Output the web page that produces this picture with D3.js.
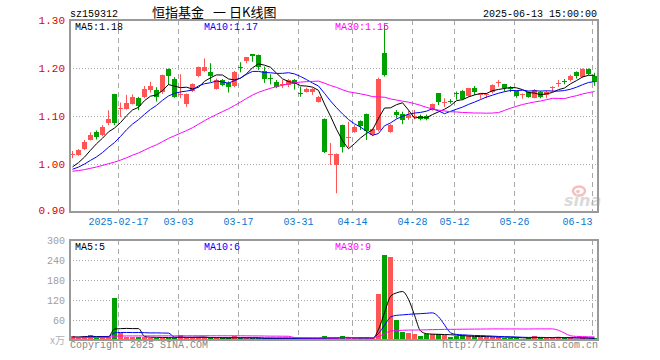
<!DOCTYPE html>
<html><head><meta charset="utf-8">
<script src="https://cdn.jsdelivr.net/npm/d3@7/dist/d3.min.js"></script>
<style>body{margin:0;background:#fff}svg{display:block}</style>
</head><body>
<svg id="c" width="660" height="360"></svg>
<script>
// ---------------- data ----------------
const dates = [
"2025-02-05","2025-02-06","2025-02-07","2025-02-10","2025-02-11","2025-02-12","2025-02-13","2025-02-14","2025-02-17","2025-02-18",
"2025-02-19","2025-02-20","2025-02-21","2025-02-24","2025-02-25","2025-02-26","2025-02-27","2025-02-28","2025-03-03","2025-03-04",
"2025-03-05","2025-03-06","2025-03-07","2025-03-10","2025-03-11","2025-03-12","2025-03-13","2025-03-14","2025-03-17","2025-03-18",
"2025-03-19","2025-03-20","2025-03-21","2025-03-24","2025-03-25","2025-03-26","2025-03-27","2025-03-28","2025-03-31","2025-04-01",
"2025-04-02","2025-04-03","2025-04-07","2025-04-08","2025-04-09","2025-04-10","2025-04-11","2025-04-14","2025-04-15","2025-04-16",
"2025-04-17","2025-04-18","2025-04-21","2025-04-22","2025-04-23","2025-04-24","2025-04-25","2025-04-28","2025-04-29","2025-04-30",
"2025-05-06","2025-05-07","2025-05-08","2025-05-09","2025-05-12","2025-05-13","2025-05-14","2025-05-15","2025-05-16","2025-05-19",
"2025-05-20","2025-05-21","2025-05-22","2025-05-23","2025-05-26","2025-05-27","2025-05-28","2025-05-29","2025-05-30","2025-06-03",
"2025-06-04","2025-06-05","2025-06-06","2025-06-09","2025-06-10","2025-06-11","2025-06-12","2025-06-13"];

const open = [1.019,1.019,1.031,1.051,1.066,1.060,1.085,1.146,1.1155,1.114,
1.126,1.137,1.140,1.154,1.154,1.149,1.198,1.178,1.144,1.124,
1.152,1.183,1.194,1.191,1.157,1.175,1.168,1.163,1.2015,1.215,
1.229,1.227,1.194,1.1795,1.171,1.166,1.164,1.175,1.148,1.151,
1.151,1.130,1.094,1.018,0.998,1.081,1.056,1.067,1.090,1.104,
1.060,1.071,1.232,1.067,1.109,1.104,1.0965,1.099,1.099,1.100,
1.1125,1.147,1.1275,1.1305,1.1475,1.152,1.142,1.158,1.145,1.145,
1.149,1.1695,1.166,1.158,1.152,1.145,1.149,1.138,1.149,1.144,
1.1595,1.168,1.172,1.174,1.192,1.181,1.198,1.183];
const high = [1.027,1.031,1.050,1.066,1.070,1.081,1.112,1.146,1.128,1.144,
1.145,1.140,1.1625,1.1715,1.160,1.186,1.199,1.181,1.187,1.147,
1.168,1.203,1.220,1.210,1.178,1.177,1.172,1.194,1.212,1.223,
1.229,1.228,1.203,1.187,1.175,1.175,1.177,1.177,1.161,1.159,
1.158,1.142,1.095,1.044,1.022,1.082,1.088,1.081,1.091,1.105,
1.074,1.180,1.290,1.083,1.1125,1.109,1.111,1.1125,1.103,1.103,
1.126,1.148,1.137,1.135,1.151,1.154,1.159,1.1625,1.147,1.148,
1.166,1.175,1.167,1.162,1.153,1.147,1.151,1.156,1.152,1.153,
1.162,1.175,1.177,1.186,1.193,1.199,1.199,1.190];
const low = [1.012,1.017,1.029,1.049,1.051,1.058,1.081,1.081,1.098,1.113,
1.124,1.112,1.137,1.149,1.130,1.146,1.165,1.138,1.137,1.119,
1.150,1.181,1.192,1.171,1.155,1.162,1.149,1.160,1.191,1.210,
1.213,1.196,1.169,1.166,1.158,1.158,1.160,1.155,1.140,1.149,
1.144,1.128,1.023,0.998,0.939,1.024,1.035,1.065,1.071,1.050,
1.058,1.068,1.182,1.065,1.095,1.083,1.092,1.093,1.091,1.091,
1.111,1.123,1.119,1.1257,1.134,1.133,1.140,1.144,1.136,1.137,
1.147,1.161,1.151,1.150,1.138,1.136,1.138,1.137,1.137,1.137,
1.150,1.161,1.166,1.172,1.178,1.180,1.185,1.163];
const close = [1.020,1.029,1.045,1.060,1.057,1.078,1.094,1.086,1.116,1.128,
1.139,1.121,1.156,1.1625,1.140,1.185,1.184,1.140,1.146,1.145,
1.166,1.202,1.202,1.183,1.175,1.165,1.161,1.192,1.2005,1.222,
1.226,1.203,1.178,1.1785,1.161,1.1668,1.174,1.167,1.147,1.157,
1.156,1.140,1.025,1.020,1.021,1.036,1.057,1.078,1.079,1.069,
1.072,1.178,1.185,1.081,1.102,1.092,1.102,1.101,1.093,1.094,
1.125,1.130,1.1282,1.1298,1.1468,1.1355,1.158,1.149,1.146,1.146,
1.165,1.1705,1.159,1.157,1.142,1.146,1.140,1.154,1.140,1.151,
1.1605,1.169,1.171,1.184,1.184,1.198,1.187,1.171];
// volume, 万
const volume = [12,7,13,15,5,12,8,125,20,9,
9,8,9,7,7,7,6,6,16,5,
8,8,8,5,6,5,5,12,5,6,
5,5,5,5,5,6,5,5,5,5,
5,5,11,5,6,12,5,5,5,6,
5,138,255,249,60,25,21,18,13,18,
18,18,15,10,12,12,11,8,10,10,
10,8,7,7,7,4,6,12,7,7,
5,9,7,6,4,5,4,6];
// estimated sessions before the first visible day (only feed the moving averages)
const prevClose = [0.990,0.985,0.978,0.975,0.980,0.986,0.990,0.988,0.983,0.979,
0.977,0.980,0.984,0.987,0.985,0.982,0.979,0.981,0.985,0.986,
0.983,0.981,0.984,0.986,0.986,0.985,0.987,0.989,0.989];
const prevVolume = [7,6,8,5,7,6,9,7,6,5,8,7,6,7,5,6,8,7,6,5,7,6,8,7,6,7,9,8,9];

const priceTicks = [0.90,1.00,1.10,1.20,1.30];
const volumeTicks = [0,60,120,180,240,300];
const tickDates = ["2025-02-17","2025-03-03","2025-03-17","2025-03-31","2025-04-14","2025-04-28","2025-05-12","2025-05-26","2025-06-13"];
const maPeriods = [5,10,30];
const maColors = ["#000000","#0000ff","#ff00ff"];

// ---------------- drawing ----------------
const UP = "#ff5555", DOWN = "#00a000";
const GRID = "#a8a8a8", FRAME = "#999999";
const MONO = "'Liberation Mono','DejaVu Sans Mono',monospace";
const svg = d3.select("#c");

const L = 70, R = 598, PT = 20, PB = 212, VT = 240, VB = 340;
const x = d3.scaleBand().domain(dates).range([L - 0.5, R - 0.5]).paddingInner(1/6).paddingOuter(1/12);
const cx = d => x(d) + x.bandwidth() / 2;
const y = d3.scaleLinear().domain([0.90, 1.30]).range([PB, PT]);
const yv = d3.scaleLinear().domain([0, 300]).range([VB, VT]);

function movingAvg(series, prev, n) {
  const all = prev.concat(series), off = prev.length;
  return series.map((_, i) => d3.mean(all.slice(off + i - n + 1, off + i + 1)));
}
const priceMA = maPeriods.map(n => movingAvg(close, prevClose, n));
const volMA = maPeriods.map(n => movingAvg(volume, prevVolume, n));

// header
svg.append("text").attr("x", 70).attr("y", 16.5).attr("font-family", MONO).attr("font-size", 10).attr("fill", "#000").text("sz159312");
const cjk = "'Noto Sans CJK SC','Noto Sans',sans-serif";
svg.append("text").attr("x", 152).attr("y", 17).attr("font-family", cjk).attr("font-size", 13).attr("fill", "#000").text("恒指基金");
svg.append("text").attr("x", 213).attr("y", 17).attr("font-family", cjk).attr("font-size", 13).attr("fill", "#000").text("一");
svg.append("text").attr("x", 229).attr("y", 17).attr("font-family", cjk).attr("font-size", 13).attr("fill", "#000").text("日K线图");
svg.append("text").attr("x", 597).attr("y", 16.5).attr("text-anchor", "end").attr("font-family", MONO).attr("font-size", 10).attr("fill", "#000").text(dates[dates.length - 1] + " 15:00:00");

// grids
function panelGrid(top, bottom, ys) {
  const g = svg.append("g");
  ys.forEach(v => g.append("line").attr("x1", L).attr("x2", R).attr("y1", Math.round(v) + 0.5).attr("y2", Math.round(v) + 0.5)
    .attr("stroke", GRID).attr("stroke-dasharray", "1,2"));
  tickDates.forEach(d => {
    const xx = Math.round(x(d)) + 0.5;
    g.append("line").attr("x1", xx).attr("x2", xx).attr("y1", top).attr("y2", bottom)
      .attr("stroke", GRID).attr("stroke-dasharray", "5,4");
  });
}
panelGrid(PT, PB, priceTicks.filter(v => v > 0.9 && v < 1.3).map(y));
panelGrid(VT, VB, volumeTicks.filter(v => v > 0 && v < 300).map(yv));

// watermark
const wm = svg.append("g").attr("opacity", 0.55);
wm.append("ellipse").attr("cx", 579).attr("cy", 191).attr("rx", 6).attr("ry", 4.5).attr("fill", "none").attr("stroke", "#f08a8a").attr("stroke-width", 2.5);
wm.append("circle").attr("cx", 578).attr("cy", 191.5).attr("r", 1.8).attr("fill", "#f08a8a");
wm.append("text").attr("x", 564).attr("y", 206).attr("font-family", "'DejaVu Sans',sans-serif").attr("font-style", "italic").attr("font-weight", "bold")
  .attr("font-size", 16).attr("fill", "#bdbdbd").text("sina");

// price axis labels
priceTicks.forEach(v => {
  svg.append("text").attr("x", 65).attr("y", Math.min(y(v) + 4, 214)).attr("text-anchor", "end")
    .attr("font-family", MONO).attr("font-size", 11).attr("fill", "#e00000").text(v.toFixed(2));
});
// date labels
tickDates.forEach((d, i) => {
  const xx = Math.round(x(d)) + 0.5;
  const label = i === 0 ? d : d.slice(5);
  const w = label.length * 6;
  const t = svg.append("text").attr("y", 225).attr("font-family", MONO).attr("font-size", 10).attr("fill", "#0a78d2").text(label);
  if (xx + w / 2 > R) t.attr("x", xx).attr("text-anchor", "end");
  else t.attr("x", xx).attr("text-anchor", "middle");
});
// volume axis labels
volumeTicks.filter(v => v > 0).forEach(v => {
  svg.append("text").attr("x", 65).attr("y", yv(v) + 4).attr("text-anchor", "end")
    .attr("font-family", MONO).attr("font-size", 10).attr("fill", "#a0a0a0").text(v);
});
svg.append("text").attr("x", 65).attr("y", 344).attr("text-anchor", "end").attr("font-family", cjk).attr("font-size", 10).attr("fill", "#b0b0b0").text("x万");

// clip paths
const defs = svg.append("defs");
defs.append("clipPath").attr("id", "cp").append("rect").attr("x", L).attr("y", PT).attr("width", R - L).attr("height", PB - PT);
defs.append("clipPath").attr("id", "cv").append("rect").attr("x", L).attr("y", VT).attr("width", R - L).attr("height", VB - VT);

// candles
const cg = svg.append("g").attr("clip-path", "url(#cp)");
dates.forEach((d, i) => {
  const o = open[i], c = close[i], col = c >= o ? UP : DOWN;
  const xc = cx(d);
  cg.append("line").attr("x1", xc).attr("x2", xc).attr("y1", y(high[i])).attr("y2", y(low[i])).attr("stroke", col).attr("stroke-width", 1);
  const top = Math.round(y(Math.max(o, c))), bot = Math.round(y(Math.min(o, c)));
  cg.append("rect").attr("x", x(d)).attr("y", top).attr("width", x.bandwidth()).attr("height", Math.max(1, bot - top)).attr("fill", col);
});
// price MAs
priceMA.forEach((arr, k) => {
  cg.append("path").datum(arr).attr("fill", "none").attr("stroke", maColors[k]).attr("stroke-width", 1)
    .attr("d", d3.line().x((v, i) => cx(dates[i])).y(v => y(v)));
});

// volume bars
const vg = svg.append("g").attr("clip-path", "url(#cv)");
dates.forEach((d, i) => {
  const col = close[i] >= open[i] ? UP : DOWN;
  const t = Math.round(yv(volume[i]));
  vg.append("rect").attr("x", x(d)).attr("y", t).attr("width", x.bandwidth()).attr("height", Math.max(1, VB - t)).attr("fill", col);
});
volMA.forEach((arr, k) => {
  vg.append("path").datum(arr).attr("fill", "none").attr("stroke", maColors[k]).attr("stroke-width", 1)
    .attr("d", d3.line().curve(d3.curveMonotoneX).x((v, i) => cx(dates[i])).y(v => yv(v)));
});

// frames
[[PT, PB], [VT, VB]].forEach(([t, b]) => {
  svg.append("rect").attr("x", L).attr("y", t).attr("width", R - L).attr("height", b - t)
    .attr("fill", "none").attr("stroke", FRAME).attr("stroke-width", 2);
});

// legends
const last = dates.length - 1;
const legX = [75, 204, 335];
maPeriods.forEach((n, k) => {
  svg.append("text").attr("x", legX[k]).attr("y", 29.5).attr("font-family", MONO).attr("font-size", 10).attr("fill", maColors[k])
    .text("MA" + n + ":" + priceMA[k][last].toFixed(2));
  svg.append("text").attr("x", legX[k]).attr("y", 250).attr("font-family", MONO).attr("font-size", 10).attr("fill", maColors[k])
    .text("MA" + n + ":" + Math.round(volMA[k][last]));
});

// footer
svg.append("text").attr("x", 70).attr("y", 348).attr("font-family", MONO).attr("font-size", 10).attr("fill", "#888").text("Copyright 2025 SINA.COM");
svg.append("text").attr("x", 598).attr("y", 348).attr("text-anchor", "end").attr("font-family", MONO).attr("font-size", 10).attr("fill", "#888").text("http://finance.sina.com.cn");
</script>
</body></html>
